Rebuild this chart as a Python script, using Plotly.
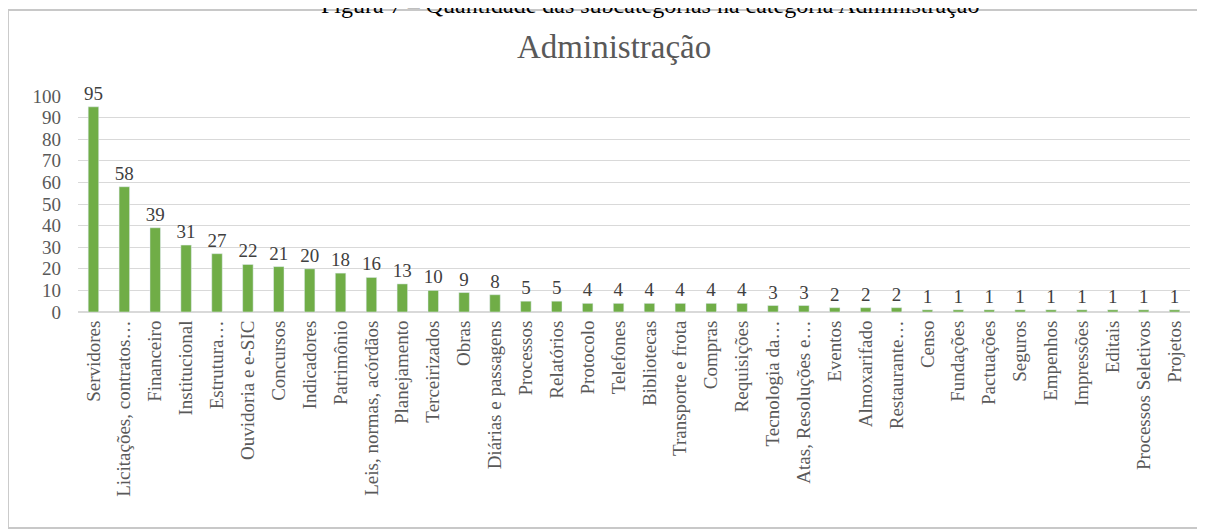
import plotly.graph_objects as go

categories = [
    "Servidores", "Licitações, contratos…", "Financeiro", "Institucional", "Estrutura…",
    "Ouvidoria e e-SIC", "Concursos", "Indicadores", "Patrimônio", "Leis, normas, acórdãos",
    "Planejamento", "Terceirizados", "Obras", "Diárias e passagens", "Processos",
    "Relatórios", "Protocolo", "Telefones", "Bibliotecas", "Transporte e frota",
    "Compras", "Requisições", "Tecnologia da…", "Atas, Resoluções e…", "Eventos",
    "Almoxarifado", "Restaurante…", "Censo", "Fundações", "Pactuações",
    "Seguros", "Empenhos", "Impressões", "Editais", "Processos Seletivos", "Projetos",
]
values = [95, 58, 39, 31, 27, 22, 21, 20, 18, 16, 13, 10, 9, 8, 5, 5, 4, 4, 4, 4,
          4, 4, 3, 3, 2, 2, 2, 1, 1, 1, 1, 1, 1, 1, 1, 1]
y_ticks = list(range(0, 101, 10))

chart_title = "Administração"
caption = "Figura 7 – Quantidade das subcategorias na categoria Administração"

FONT = "Liberation Serif, Times New Roman, serif"

fig = go.Figure(go.Bar(
    x=categories, y=values,
    marker_color="#70AD47",
    text=values, textposition="outside",
    constraintext="none",
    textfont=dict(family=FONT, size=19, color="#404040"),
    cliponaxis=False,
))

border = dict(color="#c8c8c8", width=2)
fig.update_layout(
    width=1205, height=531,
    margin=dict(l=70, r=23, t=88, b=227),
    paper_bgcolor="white", plot_bgcolor="white",
    bargap=0.66,
    showlegend=False,
    font=dict(family=FONT, color="#595959"),
    title=dict(text=chart_title, x=0.503, xanchor="center", y=0.927, yanchor="middle",
               font=dict(family=FONT, size=33, color="#595959")),
    xaxis=dict(tickangle=-90, tickfont=dict(family=FONT, size=19, color="#595959"),
               showgrid=False, showline=True, linecolor="#d9d9d9", ticks=""),
    yaxis=dict(range=[0, 100], tickvals=y_ticks, showgrid=True, gridcolor="#d9d9d9",
               zeroline=True, zerolinecolor="#d9d9d9",
               tickfont=dict(family=FONT, size=19, color="#595959"), ticks="",
               ticklabelstandoff=16),
    shapes=[
        dict(type="line", xref="paper", yref="paper", x0=-0.063, x1=1.2, y0=1.398, y1=1.398,
             line=border, layer="below"),
        dict(type="line", xref="paper", yref="paper", x0=-0.063, x1=-0.063, y0=-1.0, y1=1.398,
             line=border, layer="below"),
        dict(type="line", xref="paper", yref="paper", x0=-0.063, x1=1.2, y0=-1.0, y1=-1.0,
             line=border, layer="below"),
    ],
    annotations=[dict(text=caption, xref="paper", yref="paper", x=0.514, y=1.42,
                      xanchor="center", yanchor="middle", showarrow=False,
                      font=dict(family=FONT, size=24, color="black"))],
)

fig.write_html("out.html")
